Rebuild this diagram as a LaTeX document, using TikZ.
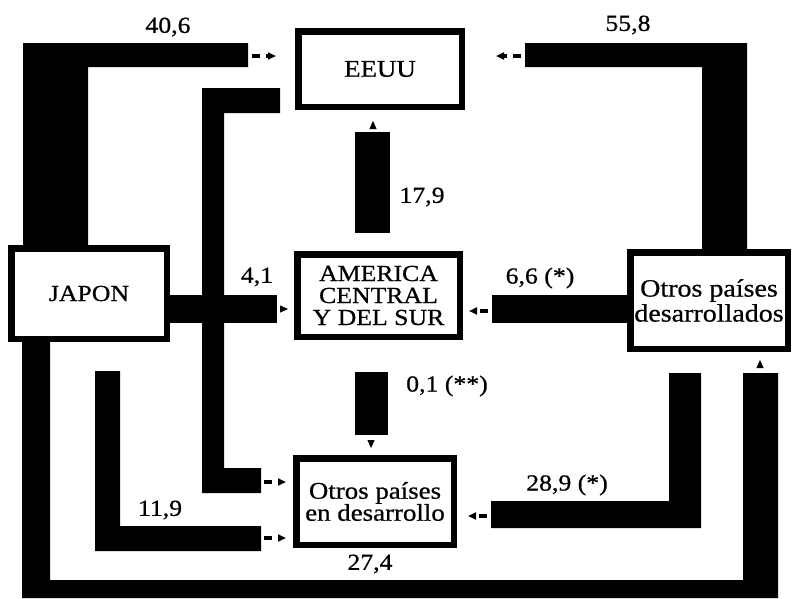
\documentclass[tikz,border=0pt]{standalone}
\usepackage{fontspec}
\setmainfont{Liberation Serif}[FakeStretch=1.12,FakeBold=0.7]
\usetikzlibrary{arrows.meta}
\begin{document}
\begin{tikzpicture}[x=1pt,y=-1pt,
  band/.style={fill=black,draw=none},
  box/.style={draw,line width=6.5pt,fill=white,inner sep=0pt,align=center,font=\fontsize{23}{22}\selectfont},
  lbl/.style={font=\fontsize{23}{23}\selectfont,inner sep=0pt},
  flow/.style={line width=3.5pt,dash pattern=on 8pt off 6pt,-{Triangle[length=8pt,width=7pt]}},
  tiparr/.style={line width=0.4pt,-{Triangle[length=8pt,width=7pt]}}]
\useasboundingbox[fill=white] (0,0) rectangle (792,598);
% flow bands
\fill[band] (23,245) -- (23,43) -- (248,43) -- (248,67) -- (88,67) -- (88,245) -- cycle;            % Japon -> EEUU
\fill[band] (525,43) -- (747,43) -- (747,252) -- (702,252) -- (702,67) -- (525,67) -- cycle;         % Otros des. -> EEUU
\fill[band] (280,88) -- (280,113) -- (224,113) -- (224,468) -- (261,468) -- (261,493) -- (202,493) -- (202,88) -- cycle; % EEUU -> Otros en des.
\fill[band] (165,295) rectangle (277,323);   % Japon -> America
\fill[band] (492,295) rectangle (630,323);   % Otros des. -> America
\fill[band] (355,132) rectangle (390,233);   % America -> EEUU
\fill[band] (355,372) rectangle (388,435);   % America -> Otros en des.
\fill[band] (95,371) -- (120,371) -- (120,526) -- (261,526) -- (261,551) -- (95,551) -- cycle;       % Japon -> Otros en des.
\fill[band] (669,373) -- (701,373) -- (701,528) -- (491,528) -- (491,501) -- (669,501) -- cycle;     % Otros des. -> Otros en des.
\fill[band] (22,338) -- (50,338) -- (50,580) -- (743,580) -- (743,373) -- (778,373) -- (778,598) -- (22,598) -- cycle; % Japon -> Otros des.
% boxes
\node[box,minimum width=163.5pt,minimum height=75.5pt,font=\fontsize{24}{24}\selectfont] (eeuu) at (380,69) {EEUU};
\node[box,minimum width=162.5pt,minimum height=82.5pt] (amer) at (378.5,295.5) {AMERICA\\CENTRAL\\Y DEL SUR};
\node[box,minimum width=155.5pt,minimum height=90.5pt] (jap) at (89,293.5) {JAPON};
\node[box,minimum width=157.5pt,minimum height=86.5pt,font=\fontsize{24}{22}\selectfont] (opd) at (375,501.5) {Otros países\\en desarrollo};
\node[box,minimum width=157.5pt,minimum height=96.5pt,font=\fontsize{25}{25}\selectfont] (od) at (709,300.5) {Otros países\\desarrollados};
% arrow heads
\coordinate (a1) at (252,56);
\coordinate (a2) at (521,56);
\coordinate (a3) at (264,482);
\coordinate (a4) at (283,309);
\coordinate (a5) at (488,311);
\coordinate (a6) at (373,126);
\coordinate (a7) at (371,443);
\coordinate (a8) at (264,538);
\coordinate (a9) at (487,516);
\coordinate (a10) at (760,365);
\draw[flow,shorten >=19pt] (a1) -- (eeuu.west |- a1);
\draw[flow,shorten >=31pt] (a2) -- (eeuu.east |- a2);
\draw[flow,shorten >=7pt] (a3) -- (opd.west |- a3);
\draw[tiparr,shorten >=6pt] (a4) -- (amer.west |- a4);
\draw[flow,shorten >=6pt] (a5) -- (amer.east |- a5);
\draw[tiparr,shorten >=11pt] (a6) -- (a6 |- eeuu.south);
\draw[tiparr,shorten >=7pt] (a7) -- (a7 |- opd.north);
\draw[flow,shorten >=7pt] (a8) -- (opd.west |- a8);
\draw[flow,shorten >=11pt] (a9) -- (opd.east |- a9);
\draw[tiparr,shorten >=8pt] (a10) -- (a10 |- od.south);
% labels
\node[lbl] (l1) at (168,27) {40,6};
\node[lbl] (l2) at (628,25) {55,8};
\node[lbl] (l3) at (422,197) {17,9};
\node[lbl] (l4) at (257,277) {4,1};
\node[lbl] (l5) at (540,278) {6,6 (*)};
\node[lbl] (l6) at (447,386) {0,1 (**)};
\node[lbl] (l7) at (567,485) {28,9 (*)};
\node[lbl] (l8) at (160,510) {11,9};
\node[lbl] (l9) at (370,564) {27,4};
\end{tikzpicture}
\end{document}
